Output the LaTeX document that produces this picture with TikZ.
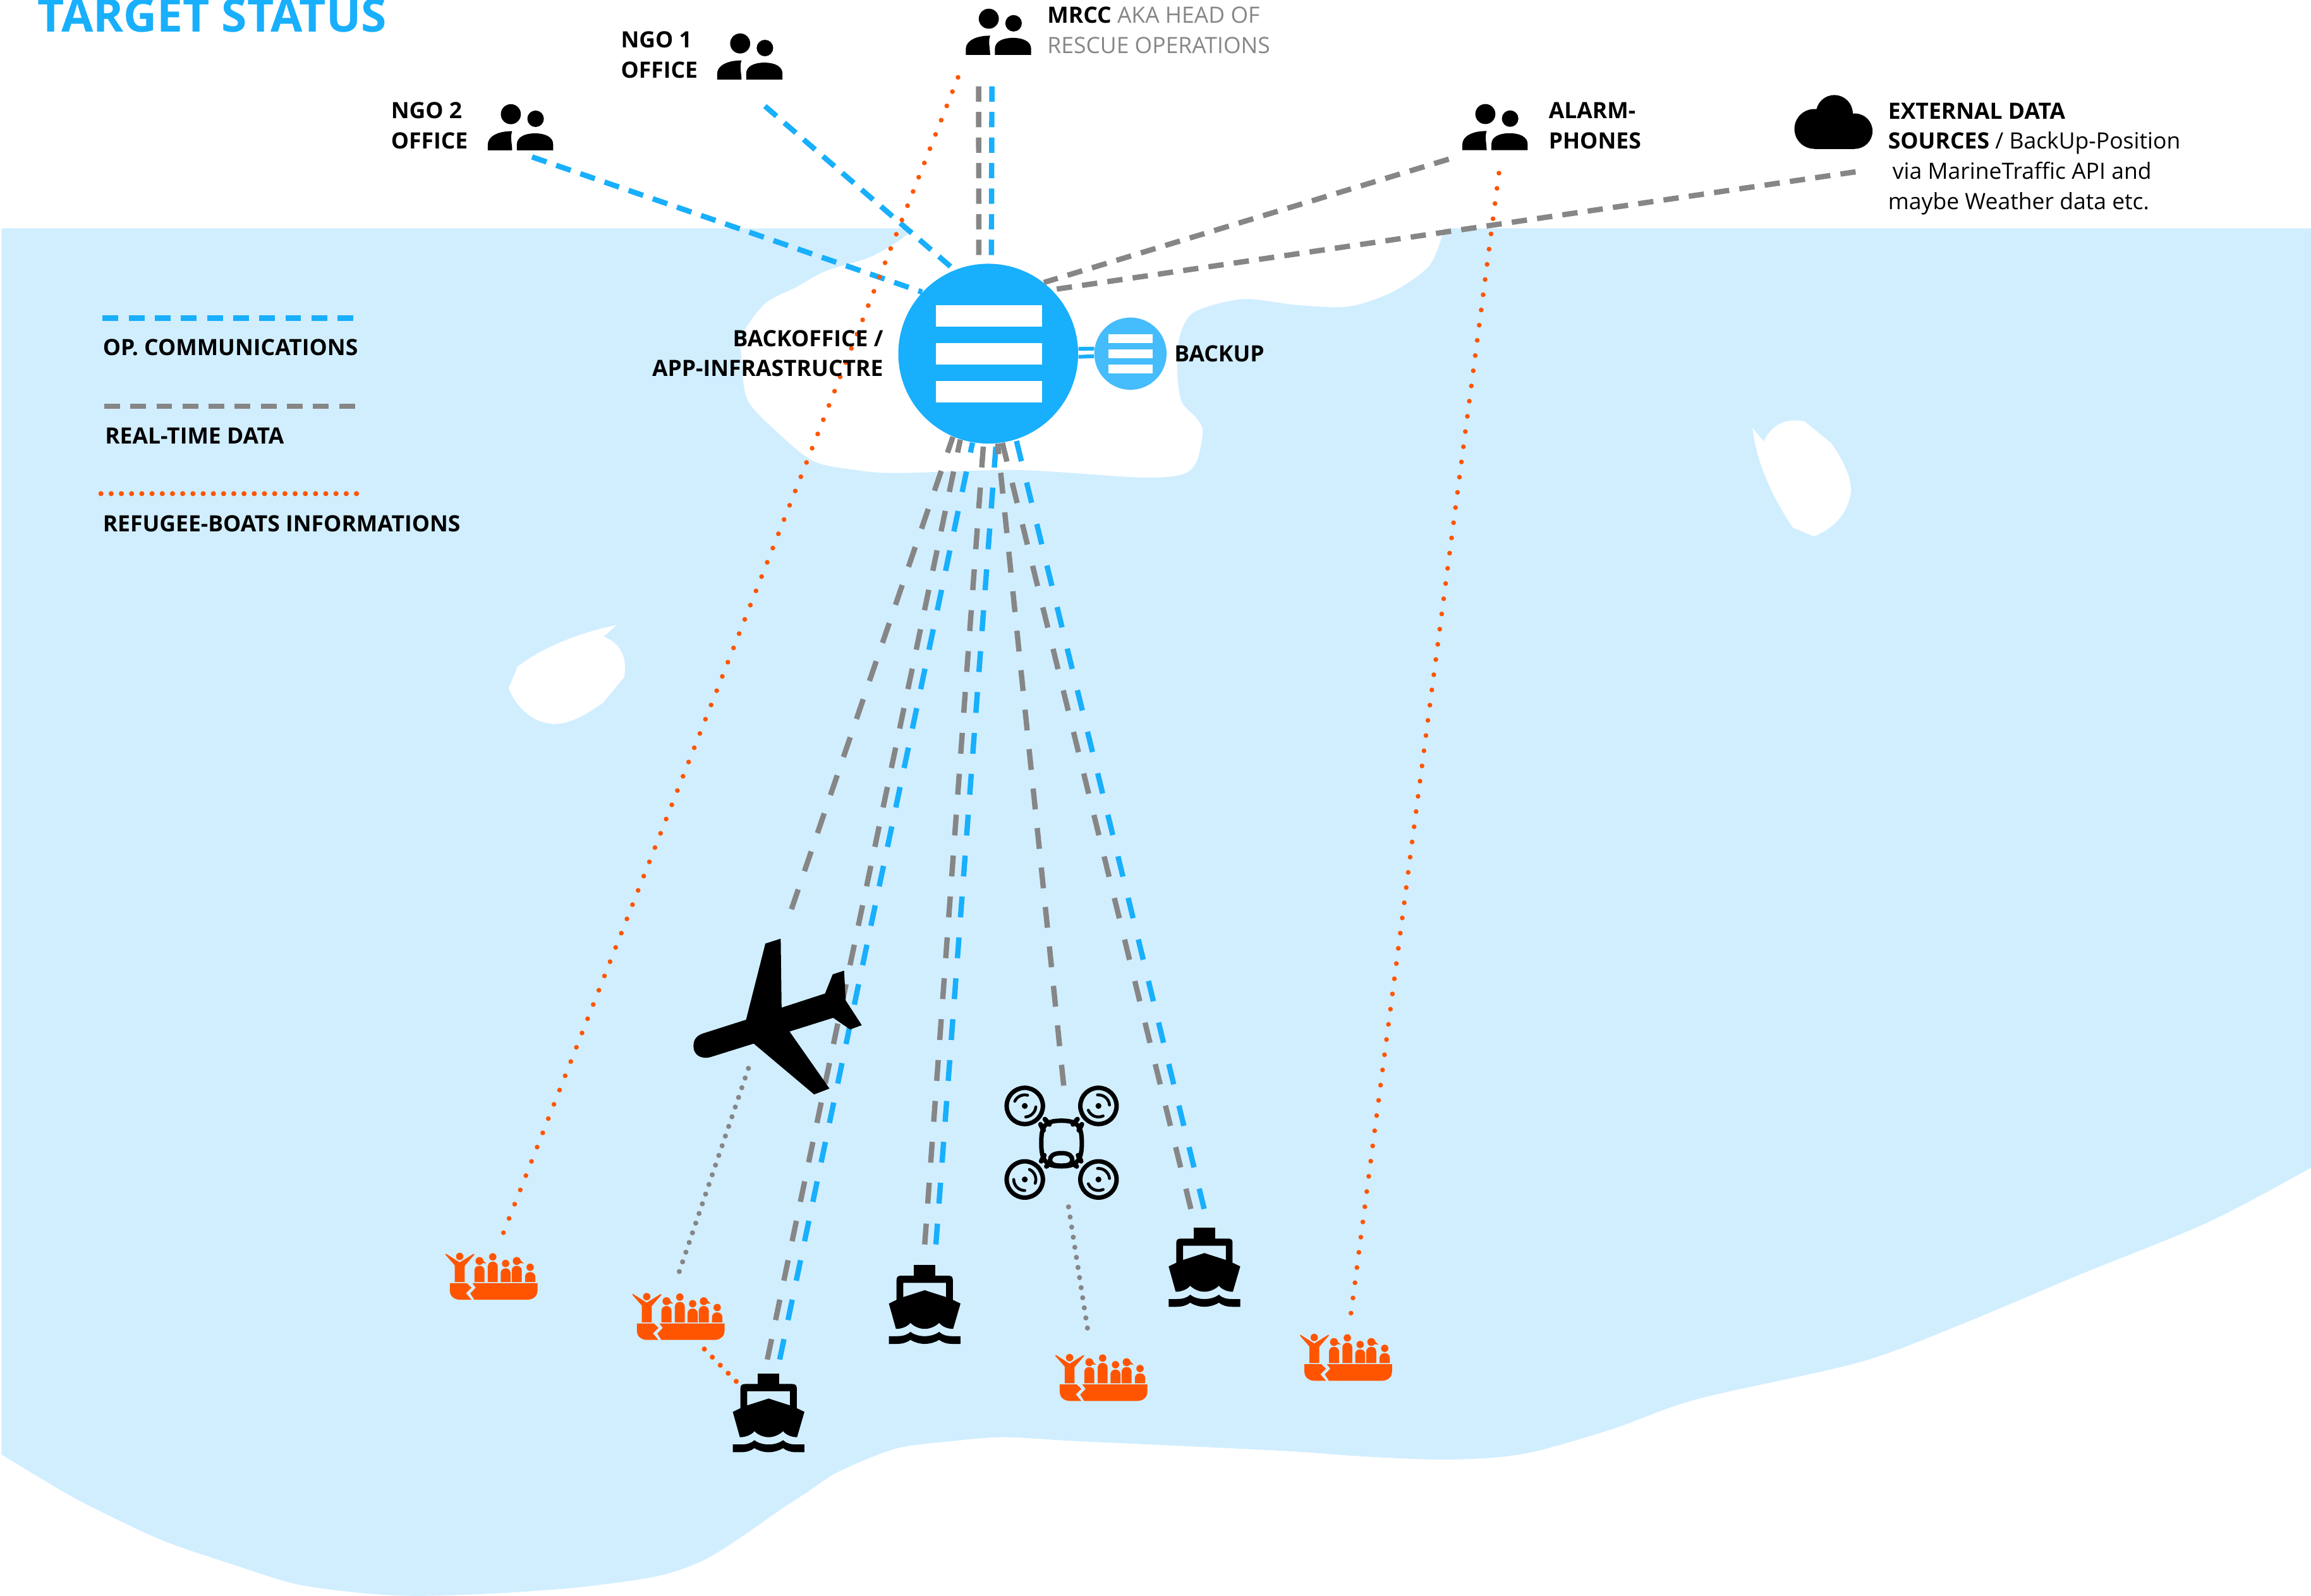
\documentclass[tikz,border=0pt]{standalone}
\usepackage{fontspec}
\setmainfont{Open Sans}

\definecolor{seablue}{HTML}{D1EEFF}
\definecolor{opblue}{HTML}{18AFFC}
\definecolor{bakblue}{HTML}{45BCFB}
\definecolor{datagray}{HTML}{868686}
\definecolor{boatorange}{HTML}{FF5500}

\tikzset{
  opline/.style={opblue, line width=2.4pt, dash pattern=on 6.9pt off 4.6pt},
  dataline/.style={datagray, line width=2.4pt, dash pattern=on 6.9pt off 4.6pt},
  longdash/.style={line width=2.4pt, dash pattern=on 9.4pt off #1},
  legdash/.style={dash pattern=on 7.1pt off 4.65pt},
  boatline/.style={boatorange, line width=2.15pt, line cap=round, dash pattern=on 0pt off 6.9pt},
  legboatline/.style={boatorange, line width=2.3pt, line cap=round, dash pattern=on 0pt off 4.6pt},
  shipboatline/.style={boatorange, line width=2.3pt, line cap=round, dash pattern=on 0pt off 5.1pt},
  linkline/.style={datagray, line width=2.3pt, line cap=round, dash pattern=on 0pt off 4.6pt},
  lbl/.style={anchor=base west, inner sep=0pt, align=left, font=\fontsize{10.1}{13.55}\selectfont},
  blbl/.style={lbl, font=\bfseries\fontsize{10.1}{13.55}\selectfont},
  rackbar/.style={rectangle, fill=white, inner sep=0pt, minimum width=1.68cm, minimum height=0.34cm},
  bakbar/.style={rectangle, fill=white, inner sep=0pt, minimum width=0.7cm, minimum height=0.14cm},
  people/.pic={
    \fill (15.6,-24.5) circle (6.8);
    \fill (32.4,-21.4) circle (5.6);
    \fill (0,0) -- (0,-4) .. controls (0,-9) and (6,-13) .. (16.5,-13) .. controls (15,-9) and (16.5,-4) .. (16.5,0) -- cycle;
    \fill (19.7,0) -- (19.7,-4) .. controls (19.7,-9) and (25,-11.5) .. (32,-11.5) .. controls (39,-11.5) and (44.3,-9) .. (44.3,-4) -- (44.3,0) -- cycle;
  },
  shipicon/.pic={
    \fill (-7.3,-53.5) rectangle (7.3,-46);
    \fill[even odd rule] (-19.1,-28) -- (-19.1,-43.5) .. controls (-19.1,-45.5) and (-18,-46.3) .. (-16,-46.3) -- (16,-46.3) .. controls (18,-46.3) and (19.1,-45.5) .. (19.1,-43.5) -- (19.1,-28) -- cycle
      (-14.5,-41.4) -- (14.5,-41.4) -- (14.5,-31.8) -- (0,-36.4) -- (-14.5,-31.8) -- cycle;
    \fill (0,-36.4) -- (19.1,-29.9) -- (24.3,-27.4) -- (19.3,-10.2) .. controls (16,-10.2) and (12,-11.5) .. (9.8,-14.3) .. controls (7,-11.5) and (3,-10.2) .. (0,-10.2) .. controls (-3,-10.2) and (-7,-11.5) .. (-9.6,-14.3) .. controls (-12,-11.5) and (-16,-10.2) .. (-19.5,-10.2) -- (-24.3,-27.4) -- (-19.1,-29.9) -- cycle;
    \fill (-24.3,-5.25) -- (-19,-5.25) .. controls (-15,-5.25) and (-12,-6) .. (-9.6,-8.2) .. controls (-7,-6) and (-3,-5.25) .. (0,-5.25) .. controls (3,-5.25) and (7,-6) .. (9.8,-8.2) .. controls (12,-6) and (15,-5.25) .. (19,-5.25) -- (24.3,-5.25) -- (24.3,0) -- (19,0) .. controls (15,0) and (12,-1) .. (9.8,-2.8) .. controls (7,-1) and (3,0) .. (0,0) .. controls (-3,0) and (-7,-1) .. (-9.6,-2.8) .. controls (-12,-1) and (-15,0) .. (-19,0) -- (-24.3,0) -- cycle;
  },
  boaticon/.pic={
    \fill[boatorange] (0,-11.2) -- (11.5,-11.2) -- (14.7,-8.2) -- (10.9,-4.4) -- (14.7,0) -- (7,0) .. controls (2.5,0) and (0,-3) .. (0,-6) -- cycle;
    \fill[boatorange] (15.3,-11.2) -- (59.5,-11.2) -- (59.5,-6) .. controls (59.5,-3) and (57,0) .. (52.5,0) -- (16.6,0) -- (13.9,-4.3) -- (17.6,-8.2) -- cycle;
    \fill[boatorange] (-3.1,-30.7) -- (-2.6,-31.2) -- (6.7,-25.3) -- (16.2,-31.2) -- (16.7,-30.7) -- (10.1,-23) -- (10.1,-12) -- (3.4,-12) -- (3.4,-23.3) -- cycle;
    \fill[boatorange] (6.7,-29.4) circle (2.5);
    \foreach \xa/\xb/\ytop/\rhead in {16.7/23.5/23/2.7,25.8/32.5/25.8/2.5,34.5/41.2/21.3/2.5,42/48.8/23/2.7,51/58/18.7/2.5} {
      \fill[boatorange] (\xa,-12) [rounded corners=2.1pt] -- (\xa,-\ytop) -- (\xb,-\ytop) [sharp corners] -- (\xb,-12) -- cycle;
      \fill[boatorange] ({(\xa+\xb)/2},{-\ytop-3.3}) circle (\rhead);
    }
    \fill[boatorange] (20.5,-28.5) -- (24.7,-24.6) -- (20.5,-25) -- cycle;
    \fill[boatorange] (46,-28.5) -- (50.2,-24.6) -- (46,-25) -- cycle;
  }
}

\begin{document}
\begin{tikzpicture}[x=0.023323cm,y=-0.023323cm]

\useasboundingbox (0,0) rectangle (1568,1083);

\fill[seablue] (1,155) -- plot [smooth] coordinates {(620,155) (609,164) (589,175) (560,184) (540,195) (519,206) (503,228) (503,241) (507,271) (527,293) (552,313) (581,319) (609,321) (691,319) (773,324) (802,322) (812,313) (816,293) (812,284) (802,273) (799,256) (800,230) (810,212) (843,203) (880,207) (915,208) (945,198) (970,180) (980,155)} -- (1568,155) -- plot [smooth] coordinates {(1568,792.4) (1498.5,829.3) (1410,865.4) (1330,899) (1261.4,924.5) (1151.7,949.4) (1094.5,969.6) (1044,984.4) (1014.8,989) (976.4,990.5) (926,988.4) (867.4,984.4) (731.7,978) (681.5,975.3) (647.6,977.8) (608,983) (569,998.7) (547,1013) (525,1027.6) (503,1043) (477,1059) (446,1069.6) (394,1077) (341,1081) (284,1083) (245,1081) (201,1075) (162,1063) (109.4,1045) (57,1020) (30.6,1005) (1,987)} -- cycle;

\fill[white] (1189,290.4) -- (1196.7,299.5) .. controls (1202,289) and (1210,283.5) .. (1224.3,285.9) -- (1242.2,300.5) .. controls (1250,311) and (1257,325) .. (1255.7,335) .. controls (1253,350) and (1243,359) .. (1230.7,364) -- (1216.4,358) .. controls (1203,338) and (1192,315) .. (1189,290.4) -- cycle;
\fill[white] (418.5,424.1) -- (409.5,432) .. controls (420,436) and (426,445) .. (423.5,459.5) -- (409,477) .. controls (395,487) and (385,491.3) .. (376,491.3) .. controls (362,491) and (350,480) .. (345.2,467) -- (351.2,452.4) .. controls (370,438) and (395,429) .. (418.5,424.1) -- cycle;

\node[circle, fill=opblue, minimum size=2.845cm, inner sep=0pt] (srv) at (670.5,240) {};
\node[circle, fill=bakblue, minimum size=1.143cm, inner sep=0pt] (bak) at (767,240) {};

\coordinate (ngotwoEnd) at (361,106.5);
\coordinate (ngooneEnd) at (519,72);
\coordinate (mrccData) at (664,58.6);
\coordinate (mrccOp) at (673,58.6);
\coordinate (mrccBoat) at (650,52.5);
\coordinate (alarmData) at (983,108);
\coordinate (alarmBoat) at (1017,117.5);
\coordinate (extData) at (1259,116.6);
\coordinate (planeData) at (537,617);
\coordinate (planeLink) at (507.8,725);
\coordinate (shipaData) at (520.6,922.6);
\coordinate (shipaOp) at (529,922.6);
\coordinate (shipaBoat) at (499.6,937.5);
\coordinate (shipbData) at (627.4,844.5);
\coordinate (shipbOp) at (635,844.5);
\coordinate (shipcData) at (808,820.4);
\coordinate (shipcOp) at (817,820.4);
\coordinate (droneData) at (721.7,736.7);
\coordinate (droneLink) at (725,819);
\coordinate (boataEnd) at (341,838);
\coordinate (boatbLink) at (459.5,867);
\coordinate (boatbShip) at (477.9,915.5);
\coordinate (boatcLink) at (738.7,907);
\coordinate (boatdEnd) at (916,896);

\draw[opline] (ngotwoEnd) -- (srv.137);
\draw[opline] (ngooneEnd) -- (srv.112);
\draw[dataline] (mrccData) -- (srv.96);
\draw[opline] (mrccOp) -- (srv.88);
\draw[dataline] (alarmData) -- (srv.52);
\draw[dataline] (extData) -- (srv.45);
\draw[dataline, longdash=8.7pt] (planeData) -- (srv.-113);
\draw[dataline, longdash=8.74pt] (shipaData) -- (srv.-108);
\draw[opline, longdash=8.74pt] (shipaOp) -- (srv.-100);
\draw[dataline, longdash=9.06pt] (shipbData) -- (srv.-93);
\draw[opline, longdash=9.06pt] (shipbOp) -- (srv.-85);
\draw[dataline, longdash=8.46pt] (droneData) -- (srv.-84);
\draw[dataline, longdash=9.85pt] (shipcData) -- (srv.-81);
\draw[opline, longdash=9.85pt] (shipcOp) -- (srv.-72);

\draw[boatline] (mrccBoat) -- (boataEnd);
\draw[boatline] (alarmBoat) -- (boatdEnd);
\draw[shipboatline] (boatbShip) -- (shipaBoat);
\draw[linkline] (planeLink) -- (boatbLink);
\draw[linkline] (droneLink) -- (boatcLink);

\draw[opblue, line width=1.7pt] (srv.3) -- (bak.172);
\draw[opblue, line width=1.7pt] (srv.-2) -- (bak.184);

\node[rackbar] (srvbarA) at (671,214.3) {};
\node[rackbar] (srvbarB) at (671,240) {};
\node[rackbar] (srvbarC) at (671,265.8) {};
\node[bakbar] (bakbarA) at (767,230) {};
\node[bakbar] (bakbarB) at (767,240) {};
\node[bakbar] (bakbarC) at (767,250.2) {};

\pic at (331,102) {people};
\pic at (486.6,54) {people};
\pic at (655.3,37.2) {people};
\pic at (992.2,101.9) {people};

\fill (1244.6,77) circle (12.5);
\fill (1231,87.5) circle (13.5);
\fill (1258.5,89) circle (12);
\fill (1231,85) rectangle (1258.5,101);

\fill (477,701.3) -- (506.2,692) -- (519.3,640.3) -- (529.7,637) -- (530.3,683.8) -- (559.8,674.2) -- (565,661.2) -- (572.7,658.7) -- (573.8,678.9) -- (584.7,695.7) -- (576.8,698.6) -- (565.3,690.7) -- (535.7,700) -- (562.8,738.7) -- (552.4,742.7) -- (511.4,708.2) -- (483.2,717) .. controls (476,719.5) and (470.5,716) .. (470.5,710) .. controls (470.5,705) and (473,702.7) .. (477,701.3) -- cycle;

\pic at (521.5,985.5) {shipicon};
\pic at (627.4,912) {shipicon};
\pic at (817.2,886.8) {shipicon};

\pic at (305.2,882) {boaticon};
\pic at (432.1,909.3) {boaticon};
\pic at (719,950.7) {boaticon};
\pic at (885,937) {boaticon};

\draw[line width=2pt] (695.3,750.5) circle (12.3);
\draw[line width=2pt] (745.3,750.5) circle (12.3);
\draw[line width=2pt] (695.3,800.4) circle (12.3);
\draw[line width=2pt] (745.3,800.4) circle (12.3);
\foreach \cx/\cy/\aa/\ab/\ba/\bb in {695.3/750.5/-155/-75/85/5,745.3/750.5/-95/-5/157/65,695.3/800.4/-65/20/180/90,745.3/800.4/-95/-5/157/65} {
  \fill (\cx,\cy) circle (2);
  \draw[line width=1.3pt, line cap=round] ([shift={(\aa:7.5)}]\cx,\cy) arc (\aa:\ab:7.5);
  \draw[line width=1.3pt, line cap=round] ([shift={(\ba:7.5)}]\cx,\cy) arc (\ba:\bb:7.5);
}
\draw[line width=2pt] (720.2,760.5) .. controls (732,760.5) and (734,765) .. (734,776) .. controls (734,788) and (730,791.5) .. (720.2,791.5) .. controls (710,791.5) and (706.5,788) .. (706.5,776) .. controls (706.5,765) and (708,760.5) .. (720.2,760.5) -- cycle;
\draw[line width=2pt] (720.2,782.5) .. controls (726,782.5) and (727.5,785) .. (727.5,787) .. controls (727.5,790) and (725,791) .. (720.2,791) .. controls (715,791) and (712.5,790) .. (712.5,787) .. controls (712.5,785) and (714,782.5) .. (720.2,782.5) -- cycle;
\draw[line width=2.2pt, line cap=round] (709,759.5) -- (712,763);
\draw[line width=2.2pt, line cap=round] (731,759.5) -- (728,763);
\draw[line width=2.2pt, line cap=round] (706,763) -- (708,767);
\draw[line width=2.2pt, line cap=round] (734,763) -- (732,767);
\draw[line width=2.2pt, line cap=round] (706.5,788) -- (708.5,784);
\draw[line width=2.2pt, line cap=round] (733.5,788) -- (731.5,784);
\draw[line width=2.2pt, line cap=round] (710,791.5) -- (713,789);
\draw[line width=2.2pt, line cap=round] (730.5,791.5) -- (727.5,789);

\coordinate (legOpA) at (69.6,215.9);
\coordinate (legOpB) at (240,215.9);
\coordinate (legDataA) at (70.7,275.7);
\coordinate (legDataB) at (241.3,275.7);
\coordinate (legBoatA) at (68.5,335);
\coordinate (legBoatB) at (242,335);
\draw[opline, legdash] (legOpA) -- (legOpB);
\draw[dataline, legdash] (legDataA) -- (legDataB);
\draw[legboatline] (legBoatA) -- (legBoatB);

\node[lbl, font=\bfseries\fontsize{20.8}{26}\selectfont, text=opblue] (title) at (25.3,21.7) {TARGET STATUS};
\node[blbl] (legOp) at (69.5,241) {OP. COMMUNICATIONS};
\node[blbl] (legData) at (71,301) {REAL-TIME DATA};
\node[blbl] (legBoat) at (69.5,361) {REFUGEE-BOATS INFORMATIONS};

\node[blbl] (ngotwo) at (265,101) {NGO 2\\OFFICE};
\node[blbl] (ngoone) at (421,53) {NGO 1\\OFFICE};
\node[lbl, text=datagray] (mrcc) at (710.3,36.1) {\textbf{\textcolor{black}{MRCC}} AKA HEAD OF\\RESCUE OPERATIONS};
\node[blbl] (alarm) at (1050.5,100.8) {ALARM-\\PHONES};
\node[lbl] (ext) at (1280.8,142) {\textbf{EXTERNAL DATA}\\\textbf{SOURCES} / BackUp-Position\\\hspace{2pt}via MarineTraffic API and\\maybe Weather data etc.};
\node[blbl, anchor=base east, align=right] (office) at (599.5,255.5) {BACKOFFICE /\\APP-INFRASTRUCTRE};
\node[blbl] (backup) at (796.5,245.5) {BACKUP};

\end{tikzpicture}
\end{document}
